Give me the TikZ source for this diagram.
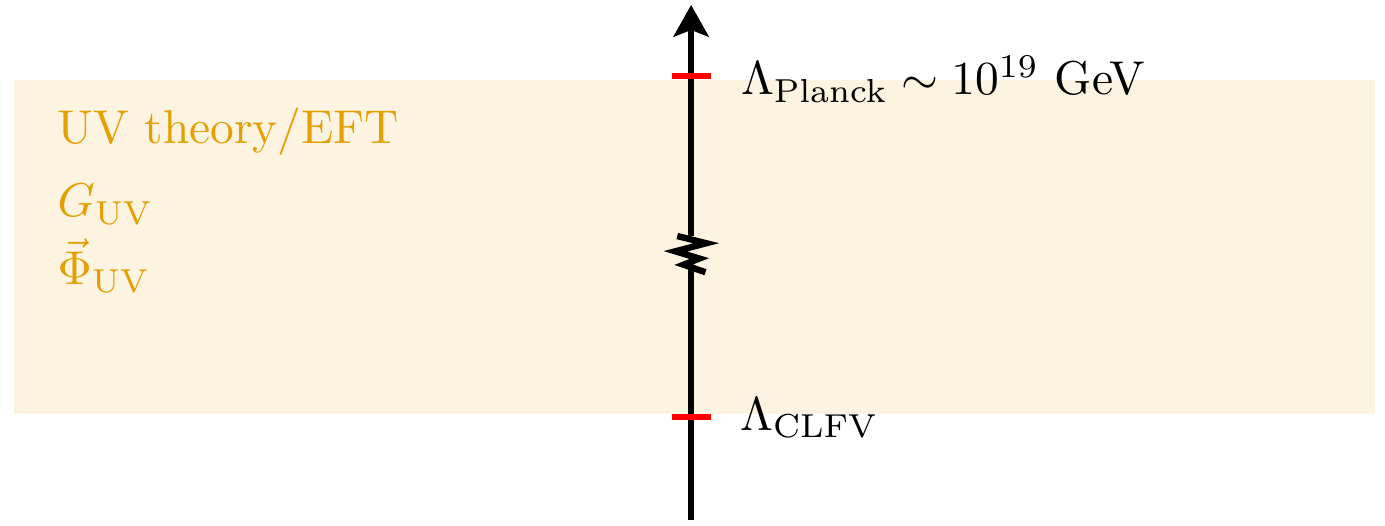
\documentclass[tikz,border=0pt]{standalone}
\usepackage{amsmath}
\usetikzlibrary{arrows.meta,calc}
\definecolor{uvorange}{HTML}{E69F00}
\tikzset{scaxis/.style={line width=1.35pt},
         sctick/.style={red,line width=1.25pt},
         sclab/.style={anchor=base west,inner sep=0pt},
         scuv/.style={sclab,text=uvorange}}

\begin{document}
\begin{tikzpicture}[scale=1.012]
  \useasboundingbox (0,0) rectangle (10.138,3.843);
  % UV band
  \fill[uvorange!12] (0.102,0.813) rectangle (10.065,3.257);
  \node[scuv] (uvtitle) at (0.415,2.796) {UV theory/EFT};
  \node[scuv] (guv) at (0.415,2.255) {$G_{\mathrm{UV}}$};
  \node[scuv] (phiuv) at (0.415,1.757) {$\vec{\Phi}_{\mathrm{UV}}$};
  % energy axis with break
  \coordinate (bot) at (5.058,0.037);
  \coordinate (top) at (5.058,3.806);
  \coordinate (brk1) at (5.058,2.115);
  \coordinate (brk2) at (5.058,1.881);
  \draw[scaxis] (bot) -- (brk2);
  \draw[scaxis,-{Stealth[length=0.235cm,width=0.26cm,inset=0.05cm]}] (brk1) -- (top);
  \draw[scaxis] ($(brk1)+(-0.102,0)$) -- ($(brk1)+(0.11,-0.053)$)
    -- ($(brk1)+(-0.115,-0.112)$) -- ($(brk1)+(0.06,-0.165)$)
    -- ($(brk1)+(-0.055,-0.21)$) -- ($(brk1)+(0.105,-0.265)$);
  % scales
  \coordinate (planck) at (5.058,3.287);
  \coordinate (clfv) at (5.058,0.791);
  \draw[sctick] ([xshift=-0.143cm]planck) -- ([xshift=0.143cm]planck);
  \draw[sctick] ([xshift=-0.143cm]clfv) -- ([xshift=0.143cm]clfv);
  \node[sclab] (lplanck) at (5.417,3.148) {$\Lambda_{\text{Planck}}\sim 10^{19}\ \text{GeV}$};
  \node[sclab] (lclfv) at (5.41,0.695) {$\Lambda_{\text{CLFV}}$};
\end{tikzpicture}
\end{document}
